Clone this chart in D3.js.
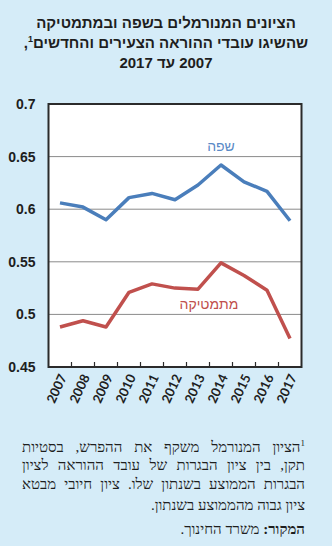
<!DOCTYPE html>
<html><head><meta charset="utf-8">
<script src="https://cdn.jsdelivr.net/npm/d3@7"></script>
<style>
body{margin:0;background:#d5ecf8;}
#wrap{position:relative;width:332px;height:546px;background:#d5ecf8;overflow:hidden;}
svg{position:absolute;left:0;top:0;}
.title{position:absolute;left:0;width:332px;text-align:center;font-family:"Liberation Sans",Arial,sans-serif;font-weight:bold;font-size:15px;color:#1e1e1e;direction:rtl;}
.title.ltr{direction:ltr;}
.title.ltr span{display:inline-block;}
.fn{position:absolute;left:22px;width:283px;direction:rtl;font-family:"Liberation Serif",serif;font-size:15px;color:#1e1e1e;white-space:nowrap;}
.fn.j{text-align:justify;text-align-last:justify;white-space:normal;}
.fn.r{text-align:right;}
sup{font-size:9px;}
</style></head>
<body><div id="wrap"></div>
<script>
const years = ["2007","2008","2009","2010","2011","2012","2013","2014","2015","2016","2017"];
const language = [0.606,0.602,0.590,0.611,0.615,0.609,0.623,0.642,0.626,0.617,0.589];
const math = [0.488,0.494,0.488,0.521,0.529,0.525,0.524,0.549,0.537,0.523,0.477];
const yTicks = [0.45,0.5,0.55,0.6,0.65,0.7];
const titleLines = ["הציונים המנורמלים בשפה ובמתמטיקה","שהשיגו עובדי ההוראה הצעירים והחדשים<sup>1</sup>,"];
const titleLine3 = ["2017","עד","2007"];
const noteLines = ["<sup>1</sup>הציון המנורמל משקף את ההפרש, בסטיות","תקן, בין ציון הבגרות של עובד ההוראה לציון","הבגרות הממוצע בשנתון שלו. ציון חיובי מבטא","ציון גבוה מהממוצע בשנתון.","<b>המקור:</b> משרד החינוך."];
const seriesNames = ["שפה","מתמטיקה"];

const wrap = d3.select("#wrap");
const W=332,H=546;
const L=48.5,R=301.5,T=104,B=367;

// title
const titleTops=[14,34,54];
titleLines.forEach((t,i)=>{
  wrap.append("div").attr("class","title").style("top",titleTops[i]+"px").html(t);
});
const t3 = wrap.append("div").attr("class","title ltr").style("top",titleTops[2]+"px");
titleLine3.forEach((w,i)=>{
  t3.append("span").text(w);
  if(i<titleLine3.length-1) t3.append("span").html("&nbsp;");
});

const svg = wrap.append("svg").attr("width",W).attr("height",H);
const x = d3.scaleBand().domain(years).range([L,R]);
const y = d3.scaleLinear().domain([0.45,0.7]).range([B,T]);

svg.append("rect").attr("x",L).attr("y",T).attr("width",R-L).attr("height",B-T).attr("fill","#fff");

// gridlines
svg.append("g").selectAll("line").data(yTicks.slice(1,-1)).join("line")
  .attr("x1",L).attr("x2",R).attr("y1",d=>y(d)).attr("y2",d=>y(d))
  .attr("stroke","#8a8a8a").attr("stroke-width",1);

// y axis labels
const yAxis = d3.axisLeft(y).tickValues(yTicks).tickSize(0).tickPadding(13).tickFormat(d=>String(+d.toFixed(2)));
const gy = svg.append("g").attr("transform",`translate(${L},0)`).call(yAxis);
gy.select(".domain").remove();
gy.selectAll("text").attr("font-family","'Liberation Sans',Arial,sans-serif").attr("font-size",14).attr("font-weight","bold").attr("fill","#1e1e1e");

// x axis: ticks at band boundaries, inside
const bounds = years.slice(1).map(d=>x(d));
svg.append("g").selectAll("line").data(bounds).join("line")
  .attr("x1",d=>d).attr("x2",d=>d).attr("y1",B).attr("y2",B-5)
  .attr("stroke","#2b2b2b").attr("stroke-width",1.2);

svg.append("g").selectAll("text").data(years).join("text")
  .attr("transform",d=>`translate(${x(d)+x.bandwidth()/2+3},${B+8}) rotate(-65)`)
  .attr("text-anchor","end").attr("dy","0.35em")
  .attr("font-family","Lato,'Open Sans',sans-serif").attr("font-weight","bold").attr("font-size",13).attr("fill","#1e1e1e")
  .text(d=>d);

// frame
svg.append("rect").attr("x",L).attr("y",T).attr("width",R-L).attr("height",B-T)
  .attr("fill","none").attr("stroke","#2b2b2b").attr("stroke-width",2);

const line = d3.line().x((d,i)=>x(years[i])+x.bandwidth()/2).y(d=>y(d));
svg.append("path").datum(language).attr("d",line).attr("fill","none").attr("stroke","#4a7ebb").attr("stroke-width",3.5).attr("stroke-linejoin","round");
svg.append("path").datum(math).attr("d",line).attr("fill","none").attr("stroke","#c0504d").attr("stroke-width",3.5).attr("stroke-linejoin","round");

// series labels
svg.append("text").attr("x",x("2014")+x.bandwidth()/2).attr("y",y(0.6555)).attr("text-anchor","middle")
  .attr("font-family","'Liberation Sans',Arial,sans-serif").attr("font-size",14).attr("fill","#5a8ac6").text(seriesNames[0]);
svg.append("text").attr("x",x("2014")+x.bandwidth()/2-12).attr("y",y(0.5055)).attr("text-anchor","middle")
  .attr("font-family","'Liberation Sans',Arial,sans-serif").attr("font-size",14).attr("fill","#c0504d").text(seriesNames[1]);

// footnote
const noteTops=[438,457,476,497,521];
noteLines.forEach((t,i)=>{
  wrap.append("div").attr("class","fn "+(i<3?"j":"r")).style("top",noteTops[i]+"px").html(t);
});
</script></body></html>
